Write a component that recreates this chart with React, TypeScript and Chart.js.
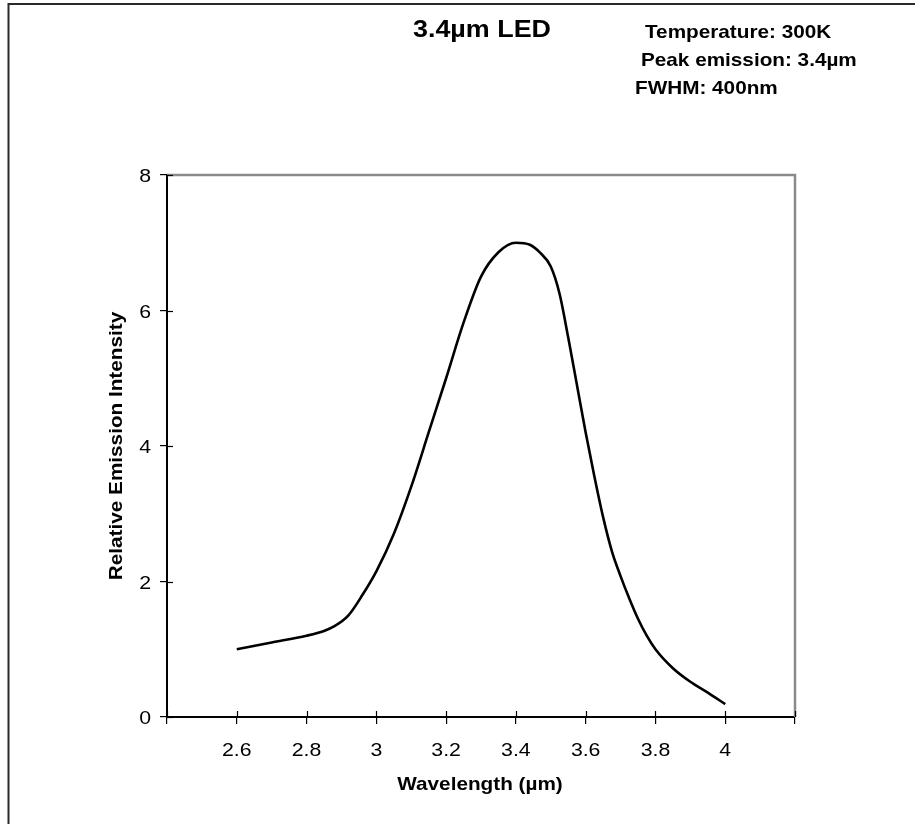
import React, { useEffect, useRef } from 'react';
import { Chart, registerables } from 'chart.js';

Chart.register(...registerables);

// ---- data ----
const wavelength = [
  2.6, 2.7, 2.8, 2.85, 2.88, 2.92, 2.96, 3.0, 3.05, 3.1, 3.15, 3.2, 3.25, 3.3, 3.35, 3.4,
  3.44, 3.47, 3.5, 3.525, 3.55, 3.575, 3.6, 3.625, 3.65, 3.675, 3.7, 3.725, 3.75, 3.775, 3.8,
  3.85, 3.9, 3.95, 4.0,
];
const intensity = [
  1.0, 1.1, 1.2, 1.27, 1.34, 1.5, 1.8, 2.15, 2.7, 3.4, 4.2, 5.0, 5.82, 6.5, 6.86, 7.0,
  6.97, 6.85, 6.65, 6.25, 5.6, 4.9, 4.2, 3.55, 2.95, 2.45, 2.08, 1.75, 1.45, 1.2, 1.0,
  0.72, 0.52, 0.36, 0.19,
];
const xTickLabels = ['2.6', '2.8', '3', '3.2', '3.4', '3.6', '3.8', '4'];
const yTickLabels = ['0', '2', '4', '6', '8'];
const chartTitle = '3.4µm LED';
const annotations = ['Temperature: 300K', 'Peak emission: 3.4µm', 'FWHM: 400nm'];
const xAxisTitle = 'Wavelength (µm)';
const yAxisTitle = 'Relative Emission Intensity';

const FAMILY = '"Liberation Sans", Arial, Helvetica, sans-serif';
const SX = 1.12; // horizontal text stretch

function stretchText(
  ctx: CanvasRenderingContext2D,
  text: string,
  x: number,
  y: number,
  font: string,
  align: CanvasTextAlign,
  rot = 0
) {
  ctx.save();
  ctx.translate(x, y);
  if (rot) ctx.rotate(rot);
  ctx.scale(SX, 1);
  ctx.font = font;
  ctx.textAlign = align;
  ctx.textBaseline = 'alphabetic';
  ctx.fillStyle = '#000';
  ctx.fillText(text, 0, 0);
  ctx.restore();
}

function fmt(v: number) {
  return String(Number(v.toFixed(2)));
}

const decorPlugin = {
  id: 'decor',
  beforeDraw(chart: any) {
    const ctx = chart.ctx as CanvasRenderingContext2D;
    ctx.save();
    ctx.fillStyle = '#fff';
    ctx.fillRect(0, 0, chart.width, chart.height);
    ctx.restore();
  },
  afterDraw(chart: any) {
    const ctx = chart.ctx as CanvasRenderingContext2D;
    const ca = chart.chartArea;
    const xs = chart.scales.x;
    const ys = chart.scales.y;
    ctx.save();
    // gray frame top & right
    ctx.strokeStyle = '#8a8a8a';
    ctx.lineWidth = 2.5;
    ctx.beginPath();
    ctx.moveTo(ca.left, ca.top);
    ctx.lineTo(ca.right, ca.top);
    ctx.lineTo(ca.right, ca.bottom);
    ctx.stroke();
    // inner tick parts
    ctx.strokeStyle = '#000';
    ctx.lineWidth = 1.2;
    xs.ticks.forEach((_t: any, i: number) => {
      const px = Math.round(xs.getPixelForTick(i)) + 0.5;
      ctx.beginPath();
      ctx.moveTo(px, ca.bottom);
      ctx.lineTo(px, ca.bottom - 6);
      ctx.stroke();
    });
    ys.ticks.forEach((_t: any, i: number) => {
      const py = Math.round(ys.getPixelForTick(i)) + 0.5;
      ctx.beginPath();
      ctx.moveTo(ca.left, py);
      ctx.lineTo(ca.left + 6, py);
      ctx.stroke();
    });
    // outer border (left & top)
    ctx.strokeStyle = '#2a2a2a';
    ctx.lineWidth = 2;
    ctx.beginPath();
    ctx.moveTo(8.5, chart.height + 2);
    ctx.lineTo(8.5, 4);
    ctx.lineTo(chart.width + 2, 4);
    ctx.stroke();
    ctx.restore();

    // tick labels
    const tickFont = `19px ${FAMILY}`;
    xs.ticks.forEach((t: any, i: number) => {
      const lab = fmt(t.value);
      if (!xTickLabels.includes(lab)) return;
      stretchText(ctx, lab, xs.getPixelForTick(i), 756, tickFont, 'center');
    });
    ys.ticks.forEach((t: any, i: number) => {
      const lab = fmt(t.value);
      if (!yTickLabels.includes(lab)) return;
      stretchText(ctx, lab, 151, ys.getPixelForTick(i) + 7, tickFont, 'right');
    });

    // axis titles
    const boldF = `bold 18.5px ${FAMILY}`;
    stretchText(ctx, xAxisTitle, 480, 790, boldF, 'center');
    stretchText(ctx, yAxisTitle, 122, 446, boldF, 'center', -Math.PI / 2);

    // title and annotations
    stretchText(ctx, chartTitle, 413, 37, `bold 24px ${FAMILY}`, 'left');
    stretchText(ctx, annotations[0], 645, 37.5, boldF, 'left');
    stretchText(ctx, annotations[1], 641, 66, boldF, 'left');
    stretchText(ctx, annotations[2], 635, 94, boldF, 'left');
  },
};

export default function App() {
  const ref = useRef<HTMLCanvasElement>(null);

  useEffect(() => {
    if (!ref.current) return;
    const chart = new Chart(ref.current, {
      type: 'line',
      data: {
        datasets: [
          {
            data: wavelength.map((x, i) => ({ x, y: intensity[i] })),
            borderColor: '#000',
            borderWidth: 2.6,
            pointRadius: 0,
            fill: false,
            cubicInterpolationMode: 'monotone',
          },
        ],
      },
      options: {
        animation: false,
        responsive: true,
        maintainAspectRatio: false,
        devicePixelRatio: 1,
        layout: { padding: { left: 147, top: 175, right: 120, bottom: 87 } },
        plugins: {
          legend: { display: false },
          tooltip: { enabled: false },
          title: { display: false },
        },
        scales: {
          x: {
            type: 'linear',
            min: 2.4,
            max: 4.2,
            ticks: { stepSize: 0.2, display: false },
            grid: {
              display: true,
              drawOnChartArea: false,
              drawTicks: true,
              tickLength: 7,
              color: '#000',
              lineWidth: 1.2,
            },
            border: { display: true, color: '#000', width: 2 },
            afterFit: (s: any) => {
              s.height = 20;
            },
          },
          y: {
            type: 'linear',
            min: 0,
            max: 8,
            ticks: { stepSize: 2, display: false },
            grid: {
              display: true,
              drawOnChartArea: false,
              drawTicks: true,
              tickLength: 7,
              color: '#000',
              lineWidth: 1.2,
            },
            border: { display: true, color: '#000', width: 2 },
            afterFit: (s: any) => {
              s.width = 20;
            },
          },
        },
      },
      plugins: [decorPlugin],
    } as any);
    return () => chart.destroy();
  }, []);

  return (
    <div
      style={{
        position: 'absolute',
        left: 0,
        top: 0,
        width: 915,
        height: 824,
        background: '#fff',
      }}
    >
      <canvas ref={ref} />
    </div>
  );
}
